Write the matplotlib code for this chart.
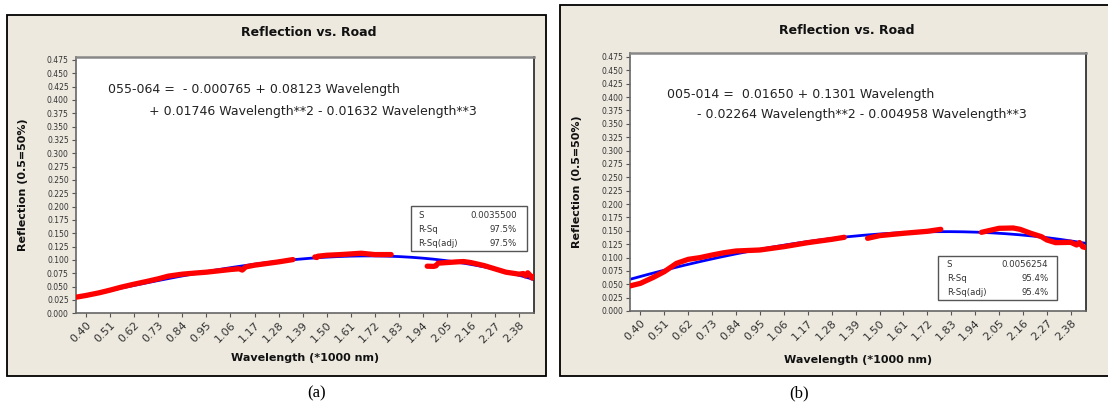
import numpy as np
import matplotlib
matplotlib.use("Agg")
import matplotlib.pyplot as plt
from matplotlib.patches import Rectangle

# ---- data -------------------------------------------------------------
x_tick_labels = ["0.40", "0.51", "0.62", "0.73", "0.84", "0.95", "1.06", "1.17",
                 "1.28", "1.39", "1.50", "1.61", "1.72", "1.83", "1.94", "2.05",
                 "2.16", "2.27", "2.38"]
y_ticks = [0.000, 0.025, 0.050, 0.075, 0.100, 0.125, 0.150, 0.175, 0.200, 0.225,
           0.250, 0.275, 0.300, 0.325, 0.350, 0.375, 0.400, 0.425, 0.450, 0.475]

# cubic fit coefficients (b0, b1, b2, b3)
coef_a = [-0.000765, 0.08123, 0.01746, -0.01632]
coef_b = [0.01650, 0.1301, -0.02264, -0.004958]

# measured reflection, sample 055-064 (NaN separates the recorded bands)
wl_a = [0.349, 0.40, 0.46, 0.51, 0.56, 0.62, 0.68, 0.73, 0.776, 0.84, 0.90, 0.95,
        1.06, 1.10, 1.114, 1.13, 1.17, 1.22, 1.28, 1.346,
        np.nan,
        1.446, 1.455, 1.46, 1.50, 1.56, 1.61, 1.658, 1.72, 1.795,
        np.nan,
        1.96, 1.99, 2.00, 2.01, 2.05, 2.10, 2.126, 2.16, 2.22, 2.27, 2.32, 2.38,
        2.40, 2.41, 2.42, 2.43, 2.44, 2.45]
refl_a = [0.0299, 0.0335, 0.0385, 0.0435, 0.0490, 0.0547, 0.0600, 0.0647, 0.0697,
          0.0734, 0.0755, 0.0771, 0.0821, 0.0835, 0.0810, 0.0870, 0.0902, 0.0930,
          0.0964, 0.1007,
          np.nan,
          0.1057, 0.1045, 0.1070, 0.1088, 0.1100, 0.1113, 0.1126, 0.1101, 0.1101,
          np.nan,
          0.0883, 0.0880, 0.0890, 0.0940, 0.0951, 0.0965, 0.0970, 0.0951, 0.0895,
          0.0833, 0.0771, 0.0734, 0.0745, 0.0700, 0.0760, 0.0715, 0.0660, 0.0700]

# measured reflection, sample 005-014
wl_b = [0.351, 0.40, 0.46, 0.51, 0.566, 0.62, 0.674, 0.73, 0.785, 0.84, 0.95,
        1.06, 1.17, 1.28, 1.338,
        np.nan,
        1.445, 1.50, 1.61, 1.72, 1.782,
        np.nan,
        1.969, 2.00, 2.05, 2.115, 2.147, 2.196, 2.245, 2.27, 2.31, 2.38, 2.407,
        2.42, 2.435, 2.45]
refl_b = [0.0468, 0.0517, 0.0630, 0.0736, 0.0891, 0.0966, 0.0998, 0.1047, 0.1090,
          0.1122, 0.1141, 0.1203, 0.1278, 0.1340, 0.1378,
          np.nan,
          0.1359, 0.1409, 0.1453, 0.1490, 0.1527,
          np.nan,
          0.1471, 0.1500, 0.1546, 0.1552, 0.1527, 0.1453, 0.1390, 0.1328, 0.1278,
          0.1284, 0.1234, 0.1280, 0.1200, 0.1185]

stats_a = [("S", "0.0035500"), ("R-Sq", "97.5%"), ("R-Sq(adj)", "97.5%")]
stats_b = [("S", "0.0056254"), ("R-Sq", "95.4%"), ("R-Sq(adj)", "95.4%")]

eq_a = ["055-064 =  - 0.000765 + 0.08123 Wavelength",
        "+ 0.01746 Wavelength**2 - 0.01632 Wavelength**3"]
eq_b = ["005-014 =  0.01650 + 0.1301 Wavelength",
        "- 0.02264 Wavelength**2 - 0.004958 Wavelength**3"]

# ---- figure -----------------------------------------------------------
W, H = 1108, 409
fig = plt.figure(figsize=(W / 100, H / 100), dpi=100)
fig.patch.set_facecolor("white")

BEIGE = "#EDE9DF"
TICK_COL = "#333333"


def fx(px):
    return px / W


def fy(py):
    return 1 - py / H


def frame(x0, y0, x1, y1):
    fig.patches.append(Rectangle((fx(x0), fy(y1)), fx(x1) - fx(x0), fy(y0) - fy(y1),
                                 transform=fig.transFigure, facecolor=BEIGE,
                                 edgecolor="black", linewidth=1.3, zorder=-5))


def stats_box(x0, y0, x1, y1, rows, lab_x, val_x, row_y):
    fig.patches.append(Rectangle((fx(x0), fy(y1)), fx(x1) - fx(x0), fy(y0) - fy(y1),
                                 transform=fig.transFigure, facecolor="white",
                                 edgecolor="#555555", linewidth=1.0, zorder=5))
    for (lab, val), yy in zip(rows, row_y):
        fig.text(fx(lab_x), fy(yy), lab, fontsize=6.2, color=TICK_COL,
                 ha="left", va="center", zorder=6)
        fig.text(fx(val_x), fy(yy), val, fontsize=6.2, color=TICK_COL,
                 ha="right", va="center", zorder=6)


def label(x, y, s, **kw):
    kw.setdefault("zorder", 6)
    fig.text(fx(x), fy(y), s, **kw)


def panel(box, coef, wl, refl, ytop):
    l, t, r, b = box
    ax = fig.add_axes([fx(l), fy(b), fx(r) - fx(l), fy(t) - fy(b)])
    ax.set_zorder(1)
    ax.set_facecolor("white")
    xs = np.linspace(0.35, 2.45, 300)
    fit = coef[0] + coef[1] * xs + coef[2] * xs ** 2 + coef[3] * xs ** 3
    ax.plot(xs, fit, color="#0000FF", linewidth=2.0, zorder=2)
    ax.plot(wl, refl, color="#FF0000", linewidth=3.8, solid_capstyle="round",
            solid_joinstyle="round", zorder=3)
    ax.set_xlim(0.352, 2.45)
    ax.set_ylim(0.0, ytop)
    xt = [float(s) for s in x_tick_labels]
    ax.set_xticks(xt)
    ax.set_xticklabels(x_tick_labels, rotation=45, ha="right",
                       rotation_mode="anchor", fontsize=8, color=TICK_COL)
    ax.set_yticks(y_ticks)
    ax.set_yticklabels([f"{v:.3f}" for v in y_ticks], fontsize=5.5, color=TICK_COL)
    ax.tick_params(axis="both", direction="out", length=3, width=0.8,
                   color="#555555", pad=2)
    for side in ("left", "bottom"):
        ax.spines[side].set_color("#666666")
        ax.spines[side].set_linewidth(1.2)
    ax.spines["top"].set_color("#888888")
    ax.spines["top"].set_linewidth(1.8)
    ax.spines["right"].set_color("#222222")
    ax.spines["right"].set_linewidth(1.2)
    return ax


# panel (a)
frame(7, 15, 546, 376)
panel((75.7, 57, 534.3, 313.3), coef_a, wl_a, refl_a, 0.4805)
label(309, 33, "Reflection vs. Road", fontsize=9, fontweight="bold",
      ha="center", va="center", color="#111111")
label(23.5, 185, "Reflection (0.5=50%)", fontsize=8, fontweight="bold",
      rotation=90, ha="center", va="center", color="#111111")
label(305, 358.3, "Wavelength (*1000 nm)", fontsize=8, fontweight="bold",
      ha="center", va="center", color="#111111")
label(108, 90, eq_a[0], fontsize=9, ha="left", va="center", color="#222222")
label(149, 111.7, eq_a[1], fontsize=9, ha="left", va="center", color="#222222")
stats_box(411, 206, 527, 250.7, stats_a, 418.3, 517, [215.7, 229.7, 243.3])
label(317, 393, "(a)", fontsize=12, family="Liberation Serif",
      ha="center", va="center", color="black")

# panel (b)
frame(560, 5.3, 1112, 376)
panel((630, 52.7, 1086, 311), coef_b, wl_b, refl_b, 0.483)
label(847, 30, "Reflection vs. Road", fontsize=9, fontweight="bold",
      ha="center", va="center", color="#111111")
label(576.5, 182, "Reflection (0.5=50%)", fontsize=8, fontweight="bold",
      rotation=90, ha="center", va="center", color="#111111")
label(858, 360, "Wavelength (*1000 nm)", fontsize=8, fontweight="bold",
      ha="center", va="center", color="#111111")
label(667, 94.3, eq_b[0], fontsize=9, ha="left", va="center", color="#222222")
label(697, 114.3, eq_b[1], fontsize=9, ha="left", va="center", color="#222222")
stats_box(938.3, 255.7, 1056.7, 300, stats_b, 946.7, 1048.3, [264.3, 278.7, 292.3])
label(799, 393, "(b)", fontsize=12, family="Liberation Serif",
      ha="center", va="center", color="black")

fig.savefig("out.png", dpi=100, facecolor=fig.get_facecolor())
